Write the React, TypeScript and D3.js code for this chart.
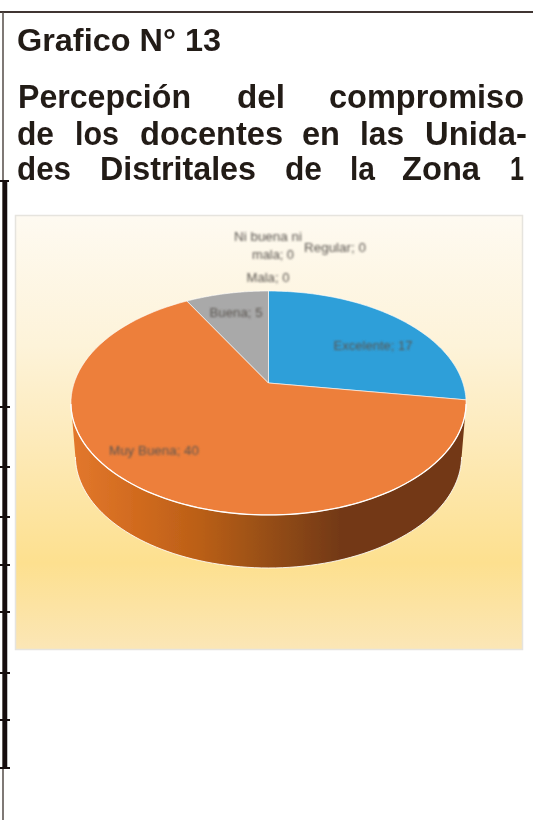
import React from "react";
import * as d3 from "d3";

const categories = ["Excelente", "Muy Buena", "Buena", "Mala", "Ni buena ni mala", "Regular"];
const values = [17, 40, 5, 0, 0, 0];
const colors = ["#2f9fd9", "#ed7f3b", "#a9a9a9", "#ffc000", "#5b9bd5", "#70ad47"];
const heading = "Grafico N° 13";
const titleLines = [
  ["Percepción", "del", "compromiso"],
  ["de", "los", "docentes", "en", "las", "Unida-"],
  ["des", "Distritales", "de", "la", "Zona", "1"],
];
const titleX = [
  [18, 237, 329],
  [17, 75, 140, 302, 360, 425],
  [17, 100, 285, 350, 402, 510],
];
const titleW = [
  [173, 48, 195],
  [37, 44, 143, 38, 44, 102],
  [54, 156, 37, 25, 78, 14],
];
const titleY = [108, 145, 180];
const ruleTicks = [407, 467, 517, 565, 612, 673, 720, 768];
const labels = [
  { t: "Excelente; 17", x: 373, y: 350, w: 79 },
  { t: "Muy Buena; 40", x: 154, y: 455, w: 90 },
  { t: "Buena; 5", x: 236, y: 317, w: 53 },
  { t: "Mala; 0", x: 268, y: 282, w: 43 },
  { t: "mala; 0", x: 273, y: 259, w: 42 },
  { t: "Ni buena ni", x: 268, y: 241, w: 68 },
  { t: "Regular; 0", x: 335, y: 252, w: 62 },
];

const CX = 268.5, K = 194.4, C = 0.1786, Y0 = 383, B = -40;
const project = (a: number, k = K, dy = 0): [number, number] => {
  const x = Math.sin(a), y = Math.cos(a), w = 1 + C * y;
  return [CX + (k * x) / w, (Y0 + B * y) / w + dy];
};
const line = d3.line();
const DEPTH = 53;
const K2 = 190;
const sample = (a0: number, a1: number, n = 90) => d3.range(n + 1).map((i) => a0 + ((a1 - a0) * i) / n);

const pieGen = d3.pie<number>().sort(null).value((d) => d);

export default function App() {
  const arcs = pieGen(values);
  const wall = [
    ...sample(Math.PI * 0.56, Math.PI * 1.44).map((a) => project(a, K2, DEPTH)),
    ...sample(Math.PI * 1.44, Math.PI * 0.56).map((a) => project(a)),
  ];
  const bottomEdge = sample(Math.PI * 0.56, Math.PI * 1.44).map((a) => project(a, K2, DEPTH));
  const frontRim = sample(Math.PI * 0.56, Math.PI * 1.44).map((a) => project(a));
  return (
    <svg width={533} height={820} style={{ position: "absolute", left: 0, top: 0, display: "block" }}>
      <defs>
        <linearGradient id="bg" x1="0" y1="0" x2="0" y2="1">
          <stop offset="0" stopColor="#fefaf1" />
          <stop offset="0.3" stopColor="#fdf3d9" />
          <stop offset="0.5" stopColor="#fdebbd" />
          <stop offset="0.8" stopColor="#fde08f" />
          <stop offset="1" stopColor="#fbe6b6" />
        </linearGradient>
        <linearGradient id="side" gradientUnits="userSpaceOnUse" x1="73" y1="0" x2="465" y2="0">
          <stop offset="0" stopColor="#e2772c" />
          <stop offset="0.17" stopColor="#d06a1e" />
          <stop offset="0.32" stopColor="#bb5f17" />
          <stop offset="0.48" stopColor="#9a5016" />
          <stop offset="0.68" stopColor="#733912" />
          <stop offset="1" stopColor="#733912" />
        </linearGradient>
        <filter id="soft" x="-5%" y="-5%" width="110%" height="110%">
          <feGaussianBlur stdDeviation="0.55" />
        </filter>
        <filter id="softer" x="-10%" y="-30%" width="120%" height="160%">
          <feGaussianBlur stdDeviation="0.8" />
        </filter>
      </defs>
      <rect width={533} height={820} fill="#ffffff" />
      <g filter="url(#soft)">
        <line x1={0} x2={533} y1={12} y2={12} stroke="#3f3632" strokeWidth={2} />
        <line x1={3} x2={3} y1={12} y2={820} stroke="#554c48" strokeWidth={1.5} />
        <line x1={5} x2={5} y1={180} y2={768} stroke="#120a08" strokeWidth={4.5} />
        <line x1={0} x2={9} y1={181} y2={181} stroke="#120a08" strokeWidth={2} />
        {ruleTicks.map((y) => (
          <line key={y} x1={0} x2={10} y1={y} y2={y} stroke="#120a08" strokeWidth={2} />
        ))}
        <g fontFamily="'Liberation Sans', Arial, sans-serif" fontWeight={700} fill="#221a18">
          <text x={17} y={51} fontSize={31} textLength={204} lengthAdjust="spacingAndGlyphs">{heading}</text>
          {titleLines.map((words, i) =>
            words.map((w, j) => (
              <text
                key={`${i}-${j}`}
                x={titleX[i][j]}
                y={titleY[i]}
                fontSize={33}
                textLength={titleW[i][j]}
                lengthAdjust="spacingAndGlyphs"
              >
                {w}
              </text>
            ))
          )}
        </g>
        <rect x={15.5} y={215.5} width={507} height={434} fill="url(#bg)" stroke="#e6e4de" strokeWidth={1.5} />
        <path d={(line(wall) as string) + "Z"} fill="url(#side)" />
        <path d={line(bottomEdge) as string} fill="none" stroke="#fff" strokeWidth={1} opacity={0.85} />
        {arcs.filter((a) => a.value > 0).map((a) => {
          const pts = [[CX, Y0] as [number, number], ...sample(a.startAngle, a.endAngle).map((t) => project(t))];
          return (
            <path
              key={a.index}
              d={(line(pts) as string) + "Z"}
              fill={colors[a.index]}
              stroke="#fff"
              strokeWidth={0.8}
              strokeOpacity={0.75}
            />
          );
        })}
        <path d={line(frontRim) as string} fill="none" stroke="#fff" strokeWidth={1.3} />
      </g>
      <g filter="url(#softer)" fontFamily="'Liberation Sans', Arial, sans-serif" fontSize={13} fill="#5a5550">
        {labels.map((l) => (
          <text key={l.t} x={l.x - l.w / 2} y={l.y} textLength={l.w} lengthAdjust="spacingAndGlyphs">
            {l.t}
          </text>
        ))}
      </g>
    </svg>
  );
}
